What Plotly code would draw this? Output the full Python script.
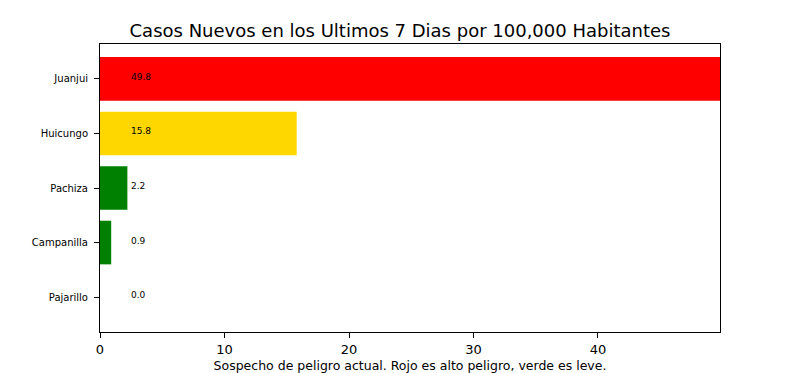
import plotly.graph_objects as go

districts = ["Juanjui", "Huicungo", "Pachiza", "Campanilla", "Pajarillo"]
values = [49.8, 15.8, 2.2, 0.9, 0.0]
colors = ["#ff0000", "#ffd700", "#008000", "#008000", "#008000"]
x_ticks = [0, 10, 20, 30, 40]

title = "Casos Nuevos en los Ultimos 7 Dias por 100,000 Habitantes"
xlabel = "Sospecho de peligro actual. Rojo es alto peligro, verde es leve."

font = "DejaVu Sans"

fig = go.Figure()
fig.add_trace(go.Bar(
    x=values, y=districts, orientation="h",
    marker=dict(color=colors, line=dict(width=0)),
    width=0.8, showlegend=False, hoverinfo="x+y",
))

for d, v in zip(districts, values):
    fig.add_annotation(
        x=2.5, y=d, text=f"{v:.1f}", showarrow=False,
        xanchor="left", yanchor="bottom", yshift=-5, xshift=-2,
        font=dict(family=font, size=9, color="black"),
    )

fig.update_layout(
    width=800, height=373,
    margin=dict(l=100, r=80, t=44, b=41),
    paper_bgcolor="white", plot_bgcolor="white",
    title=dict(text=title, x=0.5, xanchor="center", y=1 - 31 / 373, yanchor="middle",
               font=dict(family=font, size=18, color="black")),
    bargap=0.2,
)
fig.update_xaxes(
    range=[0, max(values)], tickvals=x_ticks, ticktext=[str(t) for t in x_ticks],
    ticks="outside", ticklen=5, tickcolor="black", tickwidth=1,
    showline=True, linecolor="black", linewidth=1, mirror=True,
    showgrid=False, zeroline=False, automargin=False,
    tickfont=dict(family=font, size=13, color="black"),
    title=dict(text=xlabel, font=dict(family=font, size=12.5, color="black"), standoff=6),
)
fig.update_yaxes(
    categoryorder="array", categoryarray=districts[::-1],
    range=[-0.64, len(districts) - 1 + 0.64],
    ticks="outside", ticklen=5, tickcolor="black", tickwidth=1,
    ticklabelstandoff=4,
    showline=True, linecolor="black", linewidth=1, mirror=True,
    showgrid=False, zeroline=False, automargin=False,
    tickfont=dict(family=font, size=10, color="black"),
)

fig.write_html("out.html", config={"displayModeBar": False},
               post_script="document.body.style.margin='0';document.body.style.overflow='hidden';")
